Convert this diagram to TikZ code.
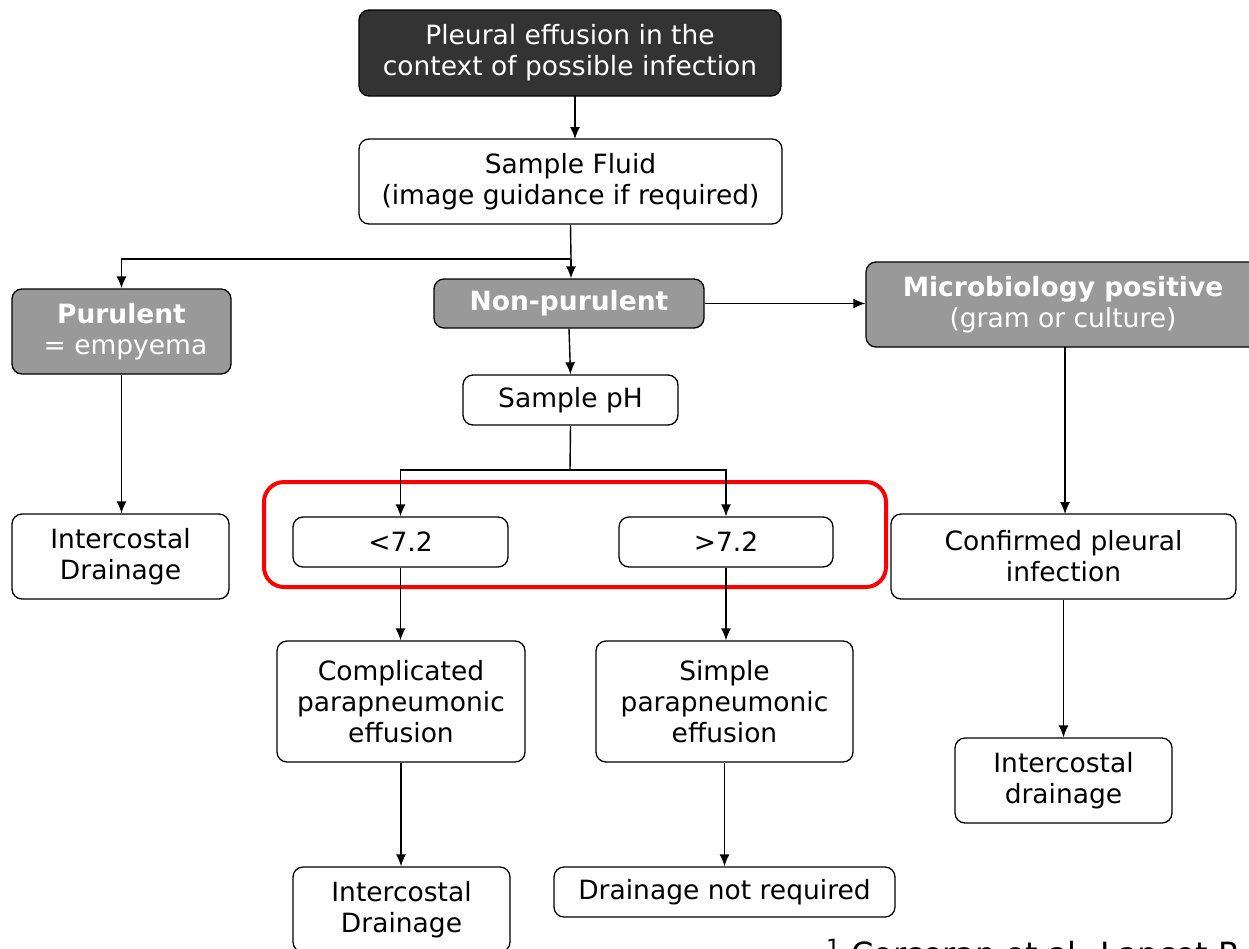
\documentclass[tikz,border=0pt]{standalone}
\usepackage{fontspec}
\setmainfont{DejaVu Sans}
\usetikzlibrary{arrows.meta,positioning}
\definecolor{darkbox}{HTML}{333333}
\definecolor{greybox}{HTML}{999999}
\newcommand{\boxfont}{\fontsize{26.5}{31}\selectfont}

\begin{document}
\begin{tikzpicture}[x=1pt,y=-1pt,
  box/.style={draw, rounded corners=10pt, line width=1.3pt, align=center,
    inner sep=0pt, font=\boxfont, fill=white},
  darknode/.style={box, fill=darkbox, text=white},
  greynode/.style={box, fill=greybox, text=white},
  arr/.style={line width=1.4pt, -{Latex[length=12pt,width=10pt]}},
  link/.style={line width=1.4pt}]
\useasboundingbox (0,0) rectangle (1249,948);
\clip (0,0) rectangle (1249,948);
% boxes
\node[darknode, minimum width=422pt, minimum height=86pt] (start) at (570,53)
  {Pleural effusion in the\\context of possible infection};
\node[box, minimum width=423pt, minimum height=85pt] (fluid) at (570.5,181.5)
  {Sample Fluid\\(image guidance if required)};
\node[greynode, minimum width=219pt, minimum height=85pt] (purulent) at (121.5,331.5)
  {\textbf{Purulent}\\\hspace*{8pt}= empyema};
\node[greynode, minimum width=270pt, minimum height=49pt] (nonpur) at (569,303.5)
  {\textbf{Non-purulent}};
\node[greynode, minimum width=394pt, minimum height=85pt] (micro) at (1063,304.5)
  {\textbf{Microbiology positive}\\(gram or culture)};
\node[box, minimum width=215pt, minimum height=50pt] (ph) at (570.5,400)
  {Sample pH};
\draw[red, line width=4pt, rounded corners=20pt] (264,482) rectangle (886,587);
\node[box, minimum width=215pt, minimum height=50pt] (low) at (400.5,542)
  {<7.2};
\node[box, minimum width=214pt, minimum height=50pt] (high) at (726,542)
  {>7.2};
\node[box, minimum width=217pt, minimum height=85pt] (drainA) at (120.5,556.5)
  {Intercostal\\Drainage};
\node[box, minimum width=345pt, minimum height=85pt] (confirmed) at (1063.5,556.5)
  {Confirmed pleural\\infection};
\node[box, minimum width=248pt, minimum height=121pt] (complic) at (401,701.5)
  {Complicated\\parapneumonic\\effusion};
\node[box, minimum width=257pt, minimum height=121pt] (simple) at (724.5,701.5)
  {Simple\\parapneumonic\\effusion};
\node[box, minimum width=217pt, minimum height=85pt] (drainC) at (1063.5,780.5)
  {Intercostal\\drainage};
\node[box, minimum width=217pt, minimum height=85pt] (drainB) at (401.5,909.5)
  {Intercostal\\Drainage};
\node[box, minimum width=341pt, minimum height=50pt] (nodrain) at (724.5,892)
  {Drainage not required};
\node[anchor=base west, inner sep=0pt, font=\fontsize{32}{38}\selectfont] (ref) at (826,965)
  {\textsuperscript{1} Corcoran et al. Lancet R};
% connectors
\coordinate (split) at (571,259);
\coordinate (phsplit) at (570,470);
\draw[arr] (575,96) -- (575,139);
\draw[link] (fluid.south) -- (split);
\draw[arr] (split) -| (purulent.north);
\draw[arr] (split) -- (split |- nonpur.north);
\draw[arr] (nonpur.east) -- (micro.west |- nonpur.east);
\draw[arr] (nonpur.south) -- (ph.north);
\draw[link] (ph.south) -- (phsplit);
\draw[arr] (phsplit) -| (low.north);
\draw[arr] (phsplit) -| (high.north);
\draw[arr] (purulent.south) -- (purulent.south |- drainA.north);
\draw[arr] (1065,347) -- (1065,514);
\draw[arr] (low.south) -- (low.south |- complic.north);
\draw[arr] (high.south) -- (high.south |- simple.north);
\draw[arr] (complic.south) -- (complic.south |- drainB.north);
\draw[arr] (simple.south) -- (simple.south |- nodrain.north);
\draw[arr] (confirmed.south) -- (confirmed.south |- drainC.north);
\end{tikzpicture}
\end{document}
